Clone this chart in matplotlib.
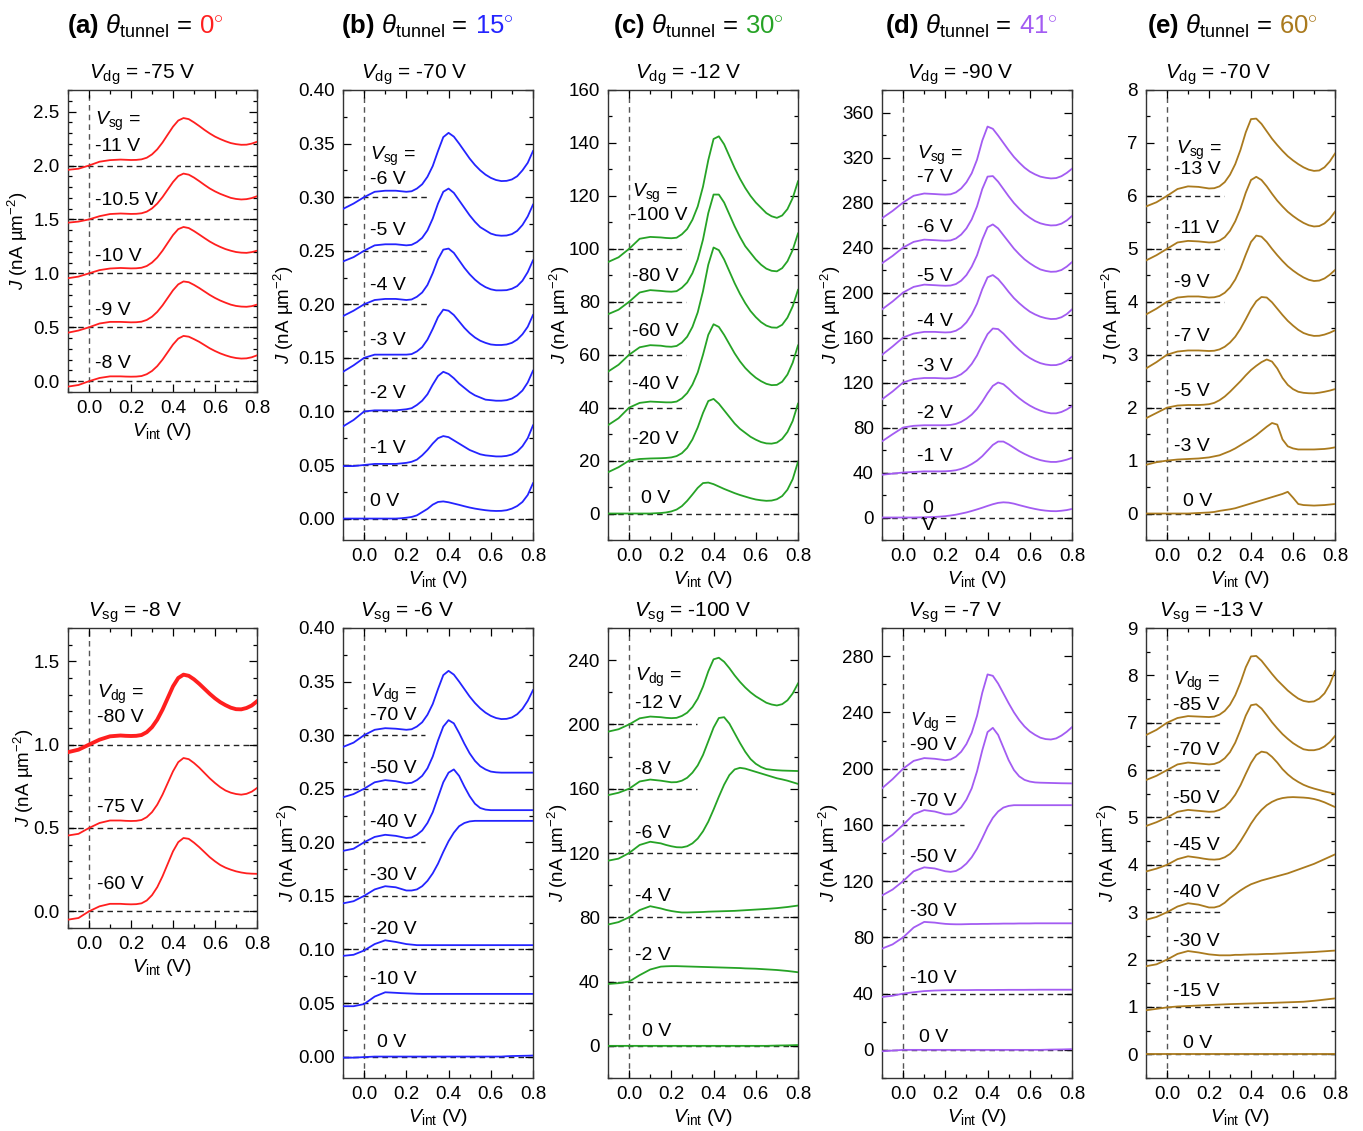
import matplotlib
matplotlib.use("Agg")
from matplotlib import pyplot as plt
from matplotlib.ticker import MultipleLocator, FormatStrFormatter

plt.rcParams['font.family'] = ['Liberation Sans', 'DejaVu Sans']
plt.rcParams['mathtext.fontset'] = 'custom'
plt.rcParams['mathtext.rm'] = 'Liberation Sans'
plt.rcParams['mathtext.it'] = 'Liberation Sans:italic'
plt.rcParams['mathtext.bf'] = 'Liberation Sans:bold'
plt.rcParams['axes.unicode_minus'] = False

# V_int sampling (V): 6 points, 20 points (0.175..0.65), 6 points (0.675..0.8)
X_V = [-0.1, -0.05, 0.0, 0.05, 0.1, 0.15,
       0.175, 0.2, 0.225, 0.25, 0.275, 0.3, 0.325, 0.35, 0.375, 0.4,
       0.425, 0.45, 0.475, 0.5, 0.525, 0.55, 0.575, 0.6, 0.625, 0.65,
       0.675, 0.7, 0.725, 0.75, 0.775, 0.8]

# ---- (a) theta = 0 deg, top: Vdg = -75 V  (J minus curve offset)
A_TOP_LABELS = ['-8 V', '-9 V', '-10 V', '-10.5 V', '-11 V']
A_TOP_OFFSETS = [0.0, 0.5, 1.0, 1.5, 2.0]
A_TOP_J = [
    [-0.05, -0.035, 0, 0.03, 0.045, 0.045, 0.043, 0.042, 0.043, 0.048, 0.065, 0.095, 0.14, 0.2, 0.27, 0.34, 0.395, 0.42, 0.413, 0.39, 0.365, 0.335, 0.305, 0.28, 0.258, 0.24, 0.225, 0.215, 0.21, 0.212, 0.222, 0.24],
    [-0.05, -0.03, 0, 0.035, 0.05, 0.05, 0.048, 0.046, 0.047, 0.052, 0.068, 0.098, 0.143, 0.203, 0.273, 0.343, 0.398, 0.425, 0.418, 0.393, 0.364, 0.332, 0.3, 0.272, 0.248, 0.228, 0.21, 0.198, 0.192, 0.19, 0.196, 0.21],
    [-0.045, -0.03, 0, 0.03, 0.045, 0.05, 0.048, 0.046, 0.047, 0.052, 0.068, 0.1, 0.147, 0.21, 0.283, 0.355, 0.41, 0.43, 0.42, 0.392, 0.36, 0.327, 0.295, 0.268, 0.245, 0.225, 0.21, 0.198, 0.192, 0.19, 0.197, 0.21],
    [-0.03, -0.02, 0, 0.03, 0.05, 0.055, 0.053, 0.051, 0.052, 0.057, 0.072, 0.102, 0.147, 0.207, 0.277, 0.347, 0.402, 0.425, 0.415, 0.388, 0.355, 0.32, 0.287, 0.26, 0.237, 0.218, 0.2, 0.19, 0.185, 0.188, 0.198, 0.215],
    [-0.04, -0.03, 0, 0.035, 0.05, 0.055, 0.053, 0.051, 0.052, 0.057, 0.072, 0.103, 0.15, 0.213, 0.287, 0.36, 0.417, 0.44, 0.43, 0.4, 0.366, 0.33, 0.297, 0.268, 0.245, 0.225, 0.208, 0.198, 0.192, 0.193, 0.203, 0.22],
]
# ---- (a) bottom: Vsg = -8 V
A_BOT_LABELS = ['-60 V', '-75 V', '-80 V']
A_BOT_OFFSETS = [0.0, 0.5, 1.0]
A_BOT_J = [
    [-0.05, -0.04, 0, 0.03, 0.045, 0.045, 0.043, 0.042, 0.043, 0.048, 0.065, 0.097, 0.145, 0.21, 0.285, 0.36, 0.415, 0.44, 0.435, 0.412, 0.385, 0.355, 0.325, 0.3, 0.278, 0.262, 0.25, 0.24, 0.233, 0.228, 0.226, 0.225],
    [-0.045, -0.035, 0, 0.03, 0.045, 0.045, 0.043, 0.042, 0.043, 0.048, 0.065, 0.095, 0.14, 0.2, 0.27, 0.34, 0.395, 0.42, 0.413, 0.39, 0.362, 0.33, 0.298, 0.27, 0.245, 0.225, 0.212, 0.204, 0.2, 0.205, 0.218, 0.24],
    [-0.045, -0.03, 0, 0.03, 0.05, 0.055, 0.053, 0.052, 0.053, 0.058, 0.075, 0.105, 0.15, 0.21, 0.28, 0.35, 0.4, 0.42, 0.413, 0.392, 0.365, 0.335, 0.305, 0.278, 0.255, 0.237, 0.222, 0.213, 0.212, 0.22, 0.235, 0.26],
]

# ---- (b) theta = 15 deg, top: Vdg = -70 V
B_TOP_LABELS = ['0 V', '-1 V', '-2 V', '-3 V', '-4 V', '-5 V', '-6 V']
B_TOP_OFFSETS = [0.0, 0.05, 0.10, 0.15, 0.20, 0.25, 0.30]
B_TOP_J = [
    [0, 0, 0, 0, 0, 0, 0.0003, 0.0008, 0.0015, 0.003, 0.006, 0.009, 0.013, 0.0155, 0.016, 0.0152, 0.014, 0.0128, 0.0115, 0.0103, 0.0093, 0.0085, 0.0078, 0.0073, 0.0071, 0.0072, 0.0078, 0.0093, 0.0117, 0.0155, 0.022, 0.033],
    [-0.001, -0.001, 0, 0.001, 0.001, 0.001, 0.0015, 0.002, 0.003, 0.005, 0.009, 0.014, 0.02, 0.025, 0.027, 0.026, 0.023, 0.02, 0.017, 0.014, 0.012, 0.01, 0.009, 0.0085, 0.008, 0.008, 0.0085, 0.0098, 0.0125, 0.0175, 0.025, 0.037],
    [-0.014, -0.008, 0, 0.001, 0.001, 0.001, 0.0015, 0.002, 0.003, 0.006, 0.01, 0.016, 0.025, 0.033, 0.037, 0.035, 0.031, 0.026, 0.022, 0.018, 0.015, 0.013, 0.011, 0.0105, 0.01, 0.01, 0.0105, 0.012, 0.015, 0.0195, 0.027, 0.038],
    [-0.013, -0.007, 0, 0.003, 0.003, 0.003, 0.003, 0.003, 0.0035, 0.006, 0.01, 0.017, 0.027, 0.038, 0.045, 0.044, 0.04, 0.034, 0.028, 0.023, 0.019, 0.016, 0.014, 0.0125, 0.012, 0.012, 0.0125, 0.014, 0.017, 0.022, 0.029, 0.04],
    [-0.011, -0.006, 0, 0.004, 0.005, 0.005, 0.0045, 0.004, 0.0045, 0.007, 0.011, 0.018, 0.029, 0.042, 0.051, 0.052, 0.048, 0.041, 0.034, 0.028, 0.023, 0.019, 0.016, 0.014, 0.013, 0.013, 0.0132, 0.0145, 0.017, 0.022, 0.03, 0.041],
    [-0.01, -0.006, 0, 0.005, 0.006, 0.006, 0.0055, 0.005, 0.0055, 0.008, 0.012, 0.019, 0.03, 0.044, 0.055, 0.058, 0.054, 0.047, 0.04, 0.033, 0.027, 0.022, 0.019, 0.016, 0.0145, 0.014, 0.0142, 0.0155, 0.0185, 0.024, 0.032, 0.043],
    [-0.011, -0.006, 0, 0.005, 0.006, 0.006, 0.0055, 0.005, 0.0055, 0.008, 0.012, 0.019, 0.029, 0.043, 0.056, 0.06, 0.0565, 0.05, 0.043, 0.036, 0.03, 0.025, 0.021, 0.018, 0.016, 0.015, 0.0152, 0.0165, 0.0195, 0.025, 0.032, 0.043],
]
# ---- (b) bottom: Vsg = -6 V
B_BOT_LABELS = ['0 V', '-10 V', '-20 V', '-30 V', '-40 V', '-50 V', '-70 V']
B_BOT_OFFSETS = [0.0, 0.05, 0.10, 0.15, 0.20, 0.25, 0.30]
B_BOT_J = [
    [-0.001, -0.001, -0.0005] + [0] * 23 + [0.0003, 0.0005, 0.0006, 0.0007, 0.0008, 0.001],
    [-0.003, -0.003, -0.001, 0.006, 0.01, 0.0095, 0.0092, 0.009, 0.0088, 0.0086] + [0.0085] * 22,
    [-0.006, -0.005, -0.001, 0.005, 0.0085, 0.007, 0.006, 0.005, 0.0045] + [0.004] * 23,
    [-0.007, -0.005, 0, 0.006, 0.009, 0.008, 0.0065, 0.005, 0.005, 0.006, 0.009, 0.014, 0.021, 0.03, 0.041, 0.051, 0.059, 0.065, 0.068, 0.0695] + [0.07] * 12,
    [-0.008, -0.006, 0, 0.005, 0.007, 0.006, 0.005, 0.004, 0.0045, 0.007, 0.011, 0.018, 0.028, 0.042, 0.056, 0.065, 0.068, 0.062, 0.052, 0.043, 0.036, 0.032, 0.0305] + [0.03] * 9,
    [-0.008, -0.005, 0, 0.006, 0.008, 0.007, 0.006, 0.005, 0.0055, 0.008, 0.012, 0.019, 0.03, 0.045, 0.058, 0.064, 0.061, 0.052, 0.042, 0.033, 0.026, 0.021, 0.018, 0.016, 0.0153] + [0.015] * 7,
    [-0.011, -0.007, 0, 0.005, 0.0065, 0.006, 0.0055, 0.005, 0.0055, 0.008, 0.012, 0.019, 0.029, 0.043, 0.056, 0.06, 0.0565, 0.05, 0.043, 0.036, 0.03, 0.025, 0.021, 0.018, 0.016, 0.015, 0.0152, 0.0165, 0.0195, 0.0245, 0.032, 0.042],
]

# ---- (c) theta = 30 deg, top: Vdg = -12 V
C_TOP_LABELS = ['0 V', '-20 V', '-40 V', '-60 V', '-80 V', '-100 V']
C_TOP_OFFSETS = [0, 20, 40, 60, 80, 100]
C_TOP_J = [
    [0, 0, 0, 0, 0, 0.2, 0.4, 0.8, 1.5, 2.8, 4.8, 7.2, 9.7, 11.5, 11.7, 11.1, 10.2, 9.3, 8.5, 7.7, 7, 6.4, 5.8, 5.3, 5, 4.8, 4.9, 5.4, 6.6, 9, 13, 19.5],
    [-4.4, -2.5, 0, 0.6, 0.8, 0.9, 1, 1.2, 1.7, 2.8, 4.8, 8, 12.5, 18, 22.5, 23.3, 21.5, 19, 16.5, 14, 12, 10.5, 9, 7.9, 7, 6.5, 6.4, 6.8, 8.2, 10.8, 15, 21.5],
    [-6.6, -4, 0, 1.8, 2.3, 2.1, 2, 2, 2.3, 3.5, 5.5, 8.7, 13.3, 20, 27.5, 31.5, 30.5, 27.5, 24, 20.5, 17.5, 15, 13, 11.3, 10, 9, 8.5, 8.6, 9.8, 12.5, 17, 23.5],
    [-6.4, -3.8, 0, 2.8, 3.6, 3.4, 3.1, 3, 3.3, 4.6, 6.8, 10.5, 16, 24, 34, 40.5, 39.5, 36, 31.5, 27, 23, 19.5, 16.5, 14.2, 12.3, 11, 10.3, 10.2, 11.3, 14, 18.3, 24.5],
    [-4.7, -3, 0, 3.5, 4.4, 4.1, 3.9, 3.8, 4, 5.3, 7.3, 10.8, 16, 23.5, 33.5, 40.5, 40.5, 37.5, 33, 28.5, 24.5, 21, 18.5, 16, 14, 12.5, 11.7, 11.5, 12.7, 15.3, 19.6, 25.8],
    [-5, -3.2, 0, 3.8, 4.5, 4.3, 4.1, 4, 4.2, 5.5, 7.5, 11, 16, 23.5, 33.5, 41.5, 42.5, 39.5, 35, 30.5, 26.5, 23, 20, 17.5, 15.5, 13.5, 12.3, 11.7, 12.6, 15, 19.2, 25.5],
]
# ---- (c) bottom: Vsg = -100 V
C_BOT_LABELS = ['0 V', '-2 V', '-4 V', '-6 V', '-8 V', '-12 V']
C_BOT_OFFSETS = [0, 40, 80, 120, 160, 200]
C_BOT_J = [
    [0] * 26 + [0.1, 0.2, 0.25, 0.3, 0.4, 0.5],
    [-1.5, -1, 0, 4, 7.5, 9.3, 9.5, 9.6, 9.6, 9.5, 9.4, 9.3, 9.2, 9.1, 9, 8.9, 8.8, 8.7, 8.6, 8.5, 8.4, 8.2, 8.1, 8, 7.8, 7.6, 7.4, 7.2, 6.9, 6.6, 6.2, 5.8],
    [-4.5, -3, 0, 4.5, 6.9, 5.5, 4.6, 3.9, 3.4, 3, 3, 3.1, 3.2, 3.3, 3.5, 3.6, 3.7, 3.8, 3.9, 4, 4.2, 4.4, 4.6, 4.8, 5, 5.2, 5.45, 5.7, 6.05, 6.4, 6.85, 7.3],
    [-4.8, -3.5, 0, 5, 7, 6, 5, 4.2, 3.6, 3.5, 4.2, 6, 9, 13.5, 19.5, 27, 35, 42.5, 48.5, 52, 53, 52.5, 51.5, 50.5, 49.5, 48.5, 47.5, 46.5, 45.8, 45, 44, 43],
    [-4, -2.5, 0, 4.5, 5.7, 5, 4.5, 4, 4.1, 5, 6.8, 10, 14.5, 21, 29.5, 38, 44, 44.5, 40.5, 34.5, 28.5, 23, 18.5, 15.5, 13.5, 12.2, 11.8, 11.5, 11.3, 11.2, 11.1, 11],
    [-4.5, -3, 0, 3.8, 4.9, 4.5, 4.1, 3.9, 4.1, 5.3, 7.3, 10.8, 16, 23.5, 33, 40.5, 41.5, 39, 35, 30.5, 26.5, 23, 20, 17.5, 15.5, 13.5, 12.4, 11.8, 12.6, 15, 19.3, 25.5],
]

# ---- (d) theta = 41 deg, top: Vdg = -90 V
D_TOP_LABELS = ['0\nV', '-1 V', '-2 V', '-3 V', '-4 V', '-5 V', '-6 V', '-7 V']
D_TOP_OFFSETS = [0, 40, 80, 120, 160, 200, 240, 280]
D_TOP_J = [
    [0, 0, 0, 0, 0.2, 0.5, 0.8, 1.2, 1.8, 2.5, 3.5, 4.5, 5.8, 7.2, 8.7, 10.3, 11.8, 13, 13.5, 13.2, 12.3, 11, 9.8, 8.6, 7.6, 6.7, 6.1, 5.7, 5.6, 6, 6.6, 7.6],
    [-2, -1, 0, 0.5, 1, 1, 1, 1.1, 1.4, 2, 3.2, 5, 7.5, 10.5, 14.5, 19.5, 24.5, 27.5, 27.5, 25, 22, 19, 16.5, 14.3, 12.5, 11, 10, 9.4, 9.4, 10.2, 11.4, 13],
    [-12.3, -6, 0, 1.5, 2, 2, 2, 2, 2.3, 3.2, 5, 7.8, 11.5, 16.5, 23, 30.5, 37, 40, 38.5, 34.5, 30, 26, 22.5, 19.5, 17, 15, 13.5, 12.6, 12.6, 13.8, 16, 19],
    [-15, -8, 0, 3, 4, 4, 3.8, 3.6, 3.8, 5, 7.3, 11, 16.5, 24, 34, 43, 48, 47.5, 43.5, 38.5, 33.5, 29, 25, 21.8, 19.2, 17.2, 16, 15.4, 15.5, 16.8, 19.3, 23],
    [-15.4, -8, 0, 3.5, 5, 5, 4.7, 4.5, 4.7, 6, 8.8, 13.5, 20.5, 30, 43, 53.5, 55.5, 52, 46.5, 40.5, 35, 30.5, 26.5, 23, 20.5, 18.5, 17.2, 16.4, 16.6, 18, 20.8, 25],
    [-15, -8, 0, 5, 7, 6.5, 6.2, 6, 6.2, 7.5, 10.5, 15.5, 23, 33, 47, 58, 60.5, 57, 51, 45, 39, 34, 29.5, 26, 23, 20.5, 19.2, 18.4, 18.6, 20, 23, 27],
    [-14, -7.5, 0, 5, 7, 6.5, 6.2, 6, 6.3, 8, 11.5, 17, 25, 36.5, 52, 63, 63.5, 58.5, 52, 45.5, 39.5, 34.5, 30, 26.5, 23.5, 21.5, 20.3, 19.6, 19.8, 21.2, 24, 28],
    [-14, -7.5, 0, 6, 8, 7.5, 7.2, 7, 7.3, 9, 12.5, 18, 26, 38, 55, 67.5, 65.5, 59.5, 53, 46.5, 40.5, 35.5, 31, 27.5, 25, 23, 22, 21.4, 21.7, 23.4, 26.3, 30],
]
# ---- (d) bottom: Vsg = -7 V
D_BOT_LABELS = ['0 V', '-10 V', '-30 V', '-50 V', '-70 V', '-90 V']
D_BOT_OFFSETS = [0, 40, 80, 120, 160, 200]
D_BOT_J = [
    [-1, -0.5, 0] + [0] * 23 + [0.1, 0.2, 0.25, 0.3, 0.4, 0.5],
    [-2.4, -1.5, 0, 1, 1.8, 2.2, 2.3, 2.4, 2.45, 2.5, 2.5, 2.5, 2.55, 2.6, 2.6, 2.6, 2.6, 2.65, 2.65, 2.7, 2.7, 2.7, 2.7, 2.75, 2.75] + [2.8] * 7,
    [-8, -5, 0, 7, 11, 10.5, 10, 9.6, 9.4, 9.3, 9.3, 9.4, 9.5, 9.5, 9.6, 9.6, 9.7, 9.7, 9.8, 9.8, 9.8, 9.9, 9.9, 9.9] + [10] * 8,
    [-10.2, -6, 0, 7, 9.8, 9, 8, 7, 6.6, 7.2, 9.3, 12.5, 17, 23, 30.5, 38.5, 45, 49.5, 52.3, 53.5] + [54] * 12,
    [-12.4, -7, 0, 7.5, 10.5, 9.5, 8.5, 7.5, 7.5, 9, 12.5, 18, 26, 38, 53, 66, 69, 64, 55, 46, 39, 34.5, 32, 30.8, 30.2, 30, 29.9, 29.8, 29.7, 29.6, 29.55, 29.5],
    [-14, -7.5, 0, 5.5, 7.5, 7, 6.5, 6, 6.5, 8.5, 12, 17.5, 25.5, 37.5, 54, 67, 66, 60.5, 53.5, 46.5, 40, 34.5, 30, 26.5, 24, 22, 21, 20.7, 21.5, 23.5, 26.2, 29.5],
]

# ---- (e) theta = 60 deg, top: Vdg = -70 V
E_TOP_LABELS = ['0 V', '-3 V', '-5 V', '-7 V', '-9 V', '-11 V', '-13 V']
E_TOP_OFFSETS = [0, 1, 2, 3, 4, 5, 6]
E_TOP_J = [
    [0, 0, 0, 0, 0, 0.01, 0.015, 0.02, 0.03, 0.05, 0.065, 0.08, 0.1, 0.13, 0.16, 0.19, 0.22, 0.25, 0.28, 0.31, 0.34, 0.37, 0.41, 0.3, 0.18, 0.16, 0.155, 0.15, 0.155, 0.16, 0.17, 0.18],
    [-0.08, -0.03, 0, 0.02, 0.03, 0.04, 0.05, 0.06, 0.08, 0.1, 0.14, 0.18, 0.23, 0.29, 0.35, 0.41, 0.48, 0.56, 0.64, 0.71, 0.68, 0.4, 0.27, 0.23, 0.21, 0.21, 0.21, 0.21, 0.215, 0.22, 0.232, 0.25],
    [-0.2, -0.1, 0, 0.04, 0.05, 0.05, 0.055, 0.065, 0.09, 0.14, 0.21, 0.3, 0.4, 0.5, 0.61, 0.71, 0.79, 0.86, 0.91, 0.87, 0.74, 0.56, 0.43, 0.35, 0.3, 0.28, 0.272, 0.27, 0.282, 0.3, 0.322, 0.35],
    [-0.26, -0.14, 0, 0.06, 0.08, 0.08, 0.075, 0.07, 0.075, 0.1, 0.15, 0.23, 0.34, 0.49, 0.67, 0.86, 1.01, 1.09, 1.08, 0.99, 0.87, 0.75, 0.64, 0.55, 0.47, 0.41, 0.375, 0.355, 0.358, 0.38, 0.415, 0.46],
    [-0.24, -0.13, 0, 0.08, 0.1, 0.1, 0.09, 0.08, 0.085, 0.11, 0.17, 0.27, 0.42, 0.63, 0.89, 1.13, 1.25, 1.23, 1.13, 1.0, 0.88, 0.77, 0.67, 0.59, 0.52, 0.46, 0.415, 0.392, 0.4, 0.44, 0.51, 0.6],
    [-0.22, -0.12, 0, 0.12, 0.15, 0.14, 0.13, 0.12, 0.125, 0.155, 0.22, 0.34, 0.52, 0.76, 1.06, 1.3, 1.36, 1.3, 1.18, 1.04, 0.91, 0.8, 0.7, 0.62, 0.55, 0.49, 0.445, 0.422, 0.43, 0.48, 0.57, 0.7],
    [-0.2, -0.12, 0, 0.13, 0.18, 0.17, 0.155, 0.14, 0.145, 0.18, 0.26, 0.4, 0.6, 0.87, 1.2, 1.45, 1.46, 1.36, 1.22, 1.08, 0.96, 0.85, 0.75, 0.67, 0.6, 0.54, 0.495, 0.472, 0.48, 0.54, 0.65, 0.8],
]
# ---- (e) bottom: Vsg = -13 V
E_BOT_LABELS = ['0 V', '-15 V', '-30 V', '-40 V', '-45 V', '-50 V', '-70 V', '-85 V']
E_BOT_OFFSETS = [0, 1, 2, 3, 4, 5, 6, 7]
E_BOT_J = [
    [0] * 32,
    [-0.07, -0.04, -0.01, 0.01, 0.02, 0.03, 0.035, 0.04, 0.045, 0.05, 0.055, 0.06, 0.063, 0.066, 0.07, 0.073, 0.076, 0.08, 0.083, 0.086, 0.09, 0.094, 0.098, 0.102, 0.106, 0.11, 0.12, 0.13, 0.142, 0.155, 0.168, 0.18],
    [-0.14, -0.1, 0, 0.12, 0.18, 0.15, 0.13, 0.11, 0.1, 0.09, 0.09, 0.09, 0.1, 0.1, 0.105, 0.11, 0.11, 0.115, 0.12, 0.12, 0.125, 0.13, 0.135, 0.14, 0.145, 0.15, 0.155, 0.16, 0.168, 0.175, 0.183, 0.19],
    [-0.16, -0.1, 0, 0.12, 0.19, 0.16, 0.13, 0.1, 0.1, 0.13, 0.2, 0.3, 0.38, 0.46, 0.53, 0.59, 0.63, 0.67, 0.7, 0.73, 0.76, 0.79, 0.82, 0.86, 0.9, 0.94, 0.98, 1.02, 1.07, 1.12, 1.17, 1.22],
    [-0.14, -0.08, 0, 0.12, 0.18, 0.15, 0.13, 0.115, 0.11, 0.12, 0.16, 0.23, 0.34, 0.5, 0.68, 0.87, 1.03, 1.16, 1.26, 1.33, 1.38, 1.41, 1.425, 1.43, 1.425, 1.42, 1.41, 1.39, 1.36, 1.32, 1.27, 1.22],
    [-0.18, -0.1, 0, 0.12, 0.16, 0.14, 0.13, 0.12, 0.125, 0.16, 0.22, 0.33, 0.48, 0.68, 0.92, 1.15, 1.32, 1.39, 1.37, 1.28, 1.16, 1.02, 0.91, 0.82, 0.75, 0.69, 0.645, 0.61, 0.58, 0.55, 0.525, 0.5],
    [-0.21, -0.12, 0, 0.12, 0.16, 0.14, 0.13, 0.12, 0.13, 0.17, 0.25, 0.38, 0.58, 0.85, 1.15, 1.37, 1.39, 1.3, 1.16, 1.01, 0.88, 0.76, 0.66, 0.57, 0.5, 0.44, 0.42, 0.42, 0.445, 0.5, 0.59, 0.72],
    [-0.26, -0.15, 0, 0.1, 0.14, 0.13, 0.125, 0.12, 0.13, 0.17, 0.25, 0.38, 0.58, 0.85, 1.17, 1.4, 1.41, 1.31, 1.17, 1.03, 0.9, 0.79, 0.68, 0.59, 0.51, 0.46, 0.44, 0.45, 0.51, 0.62, 0.81, 1.09],
]

ANGLES = ['0', '15', '30', '41', '60']
COLORS = ['#ff1f1f', '#2424ff', '#26a326', '#a35cf2', '#aa7a1e']

W, H = 1363, 1131
fig = plt.figure(figsize=(W / 100, H / 100), dpi=100)


def draw_panel(rect, offsets, curves, labels, color, ylim, major, minor, fmt,
               short_from, short_end, lab_x, lab_y, head, head_xy, title, title_dx,
               ylab_x, thick=()):
    x0, y0, x1, y1 = rect
    ax = fig.add_axes([x0 / W, 1 - y1 / H, (x1 - x0) / W, (y1 - y0) / H])
    wpx, hpx = x1 - x0, y1 - y0
    if not isinstance(lab_x, list):
        lab_x = [lab_x] * len(labels)
    for k, (off, rel) in enumerate(zip(offsets, curves)):
        xe = short_end if (short_from is not None and off >= short_from) else 0.8
        ax.plot([-0.1, xe], [off, off], color='#222222', lw=1.0, ls=(0, (4, 3)), zorder=1)
        ax.plot(X_V, [off + r for r in rel], color=color,
                lw=2.8 if k in thick else 1.3, zorder=3)
        ax.text(lab_x[k], lab_y[k], labels[k], fontsize=14, va='center', ha='left',
                linespacing=1.05, zorder=4)
    ax.axvline(0, color='#555555', lw=1.0, ls=(0, (4, 3)), zorder=1)
    ax.text(head_xy[0], head_xy[1], head, fontsize=14, va='center', ha='left', zorder=4)

    ax.set_xlim(-0.1, 0.8)
    ax.set_ylim(*ylim)
    ax.set_xticks([0.0, 0.2, 0.4, 0.6, 0.8])
    ax.set_xticklabels(['0.0', '0.2', '0.4', '0.6', '0.8'])
    ax.set_xticks([-0.1, 0.1, 0.3, 0.5, 0.7], minor=True)
    ax.yaxis.set_major_locator(MultipleLocator(major))
    ax.yaxis.set_minor_locator(MultipleLocator(minor))
    ax.yaxis.set_major_formatter(FormatStrFormatter(fmt))
    ax.tick_params(which='both', direction='in', top=True, right=True,
                   labelsize=13.5, width=0.9)
    ax.tick_params(which='major', length=6, pad=6)
    ax.tick_params(which='minor', length=3)
    for s in ax.spines.values():
        s.set_linewidth(1.0)
        s.set_color('#333333')

    ax.text(title_dx / wpx, 1 + 11 / hpx, title, transform=ax.transAxes,
            fontsize=15, ha='left', va='baseline')
    ax.text(0.5, -39 / hpx, '$V_{\\rm int}$ (V)', transform=ax.transAxes,
            fontsize=14, ha='center', va='center')
    ax.text((ylab_x - x0) / wpx, 0.5, '$J$ (nA µm$^{-2}$)', transform=ax.transAxes,
            fontsize=13.5, ha='center', va='center', rotation=90)
    return ax


SG = '$V_{\\rm sg}$ ='
DG = '$V_{\\rm dg}$ ='

draw_panel((68, 90, 257, 392), A_TOP_OFFSETS, A_TOP_J, A_TOP_LABELS, COLORS[0],
           (-0.1, 2.7), 0.5, 0.1, '%.1f', None, 0.8, 0.03,
           [0.165, 0.66, 1.16, 1.68, 2.18], SG, (0.03, 2.41),
           '$V_{\\rm dg}$ = -75 V', 21, 18)
draw_panel((68, 628, 257, 928), A_BOT_OFFSETS, A_BOT_J, A_BOT_LABELS, COLORS[0],
           (-0.1, 1.7), 0.5, 0.1, '%.1f', None, 0.8, 0.04,
           [0.16, 0.62, 1.16], DG, (0.04, 1.30),
           '$V_{\\rm sg}$ = -8 V', 20, 24, thick=(2,))

draw_panel((343, 90, 533, 540), B_TOP_OFFSETS, B_TOP_J, B_TOP_LABELS, COLORS[1],
           (-0.02, 0.40), 0.05, 0.025, '%.2f', 0.2, 0.3, 0.03,
           [0.016, 0.065, 0.117, 0.166, 0.218, 0.269, 0.316], SG, (0.03, 0.338),
           '$V_{\\rm dg}$ = -70 V', 18, 284)
draw_panel((343, 628, 533, 1078), B_BOT_OFFSETS, B_BOT_J, B_BOT_LABELS, COLORS[1],
           (-0.02, 0.40), 0.05, 0.025, '%.2f', 0.2, 0.29,
           [0.06, 0.028, 0.028, 0.028, 0.028, 0.028, 0.028],
           [0.013, 0.0716, 0.119, 0.169, 0.2186, 0.269, 0.318], DG, (0.03, 0.3386),
           '$V_{\\rm sg}$ = -6 V', 17, 288)

draw_panel((608, 90, 798, 540), C_TOP_OFFSETS, C_TOP_J, C_TOP_LABELS, COLORS[2],
           (-10, 160), 20, 10, '%d', 40, 0.27,
           [0.055, 0.015, 0.015, 0.015, 0.015, 0.005],
           [5.8, 27.9, 48.7, 68.6, 89.6, 112.5], SG, (0.015, 121),
           '$V_{\\rm dg}$ = -12 V', 27, 560)
draw_panel((608, 628, 798, 1078), C_BOT_OFFSETS, C_BOT_J, C_BOT_LABELS, COLORS[2],
           (-20, 260), 40, 20, '%d', 160, 0.32,
           [0.061, 0.029, 0.029, 0.029, 0.029, 0.029],
           [9, 56, 92.7, 132, 171.7, 213], DG, (0.029, 229),
           '$V_{\\rm sg}$ = -100 V', 26, 558)

draw_panel((882, 90, 1072, 540), D_TOP_OFFSETS, D_TOP_J, D_TOP_LABELS, COLORS[3],
           (-20, 380), 40, 20, '%d', 120, 0.3,
           [0.09, 0.064, 0.064, 0.064, 0.064, 0.064, 0.064, 0.064],
           [0.5, 54, 92, 134.5, 174, 214, 257.5, 302.6], SG, (0.064, 322),
           '$V_{\\rm dg}$ = -90 V', 25, 831)
draw_panel((882, 628, 1072, 1078), D_BOT_OFFSETS, D_BOT_J, D_BOT_LABELS, COLORS[3],
           (-20, 300), 40, 20, '%d', 160, 0.29,
           [0.075, 0.035, 0.035, 0.035, 0.035, 0.035],
           [9, 50.5, 98.3, 136.6, 176.8, 216.3], DG, (0.035, 232.9),
           '$V_{\\rm sg}$ = -7 V', 26, 829)

draw_panel((1146, 90, 1335, 540), E_TOP_OFFSETS, E_TOP_J, E_TOP_LABELS, COLORS[4],
           (-0.5, 8), 1, 0.5, '%d', 4, 0.27,
           [0.075, 0.035, 0.035, 0.035, 0.035, 0.035, 0.035],
           [0.23, 1.26, 2.3, 3.34, 4.36, 5.38, 6.5], SG, (0.043, 6.85),
           '$V_{\\rm dg}$ = -70 V', 19, 1112)
draw_panel((1146, 628, 1335, 1078), E_BOT_OFFSETS, E_BOT_J, E_BOT_LABELS, COLORS[4],
           (-0.5, 9), 1, 0.5, '%d', 3, 0.26,
           [0.075, 0.027, 0.027, 0.027, 0.027, 0.027, 0.027, 0.027],
           [0.22, 1.32, 2.39, 3.41, 4.41, 5.41, 6.41, 7.37], DG, (0.027, 7.88),
           '$V_{\\rm sg}$ = -13 V', 13, 1108)

# column headers: black part, then the coloured angle
renderer = fig.canvas.get_renderer()
for lx, tag, ang, col in zip([67, 341, 613, 885, 1147], 'abcde', ANGLES, COLORS):
    t = fig.text(lx / W, 1 - 33 / H, '$\\mathbf{(%s)}$ $\\theta_{\\rm tunnel}$ =' % tag,
                 fontsize=18.5, ha='left', va='baseline')
    bb = t.get_window_extent(renderer)
    fig.text((bb.x1 + 7) / W, 1 - 33 / H, ang + '$^{\\circ}$', fontsize=18.5, color=col,
             ha='left', va='baseline')

fig.savefig('out.png', dpi=100)
